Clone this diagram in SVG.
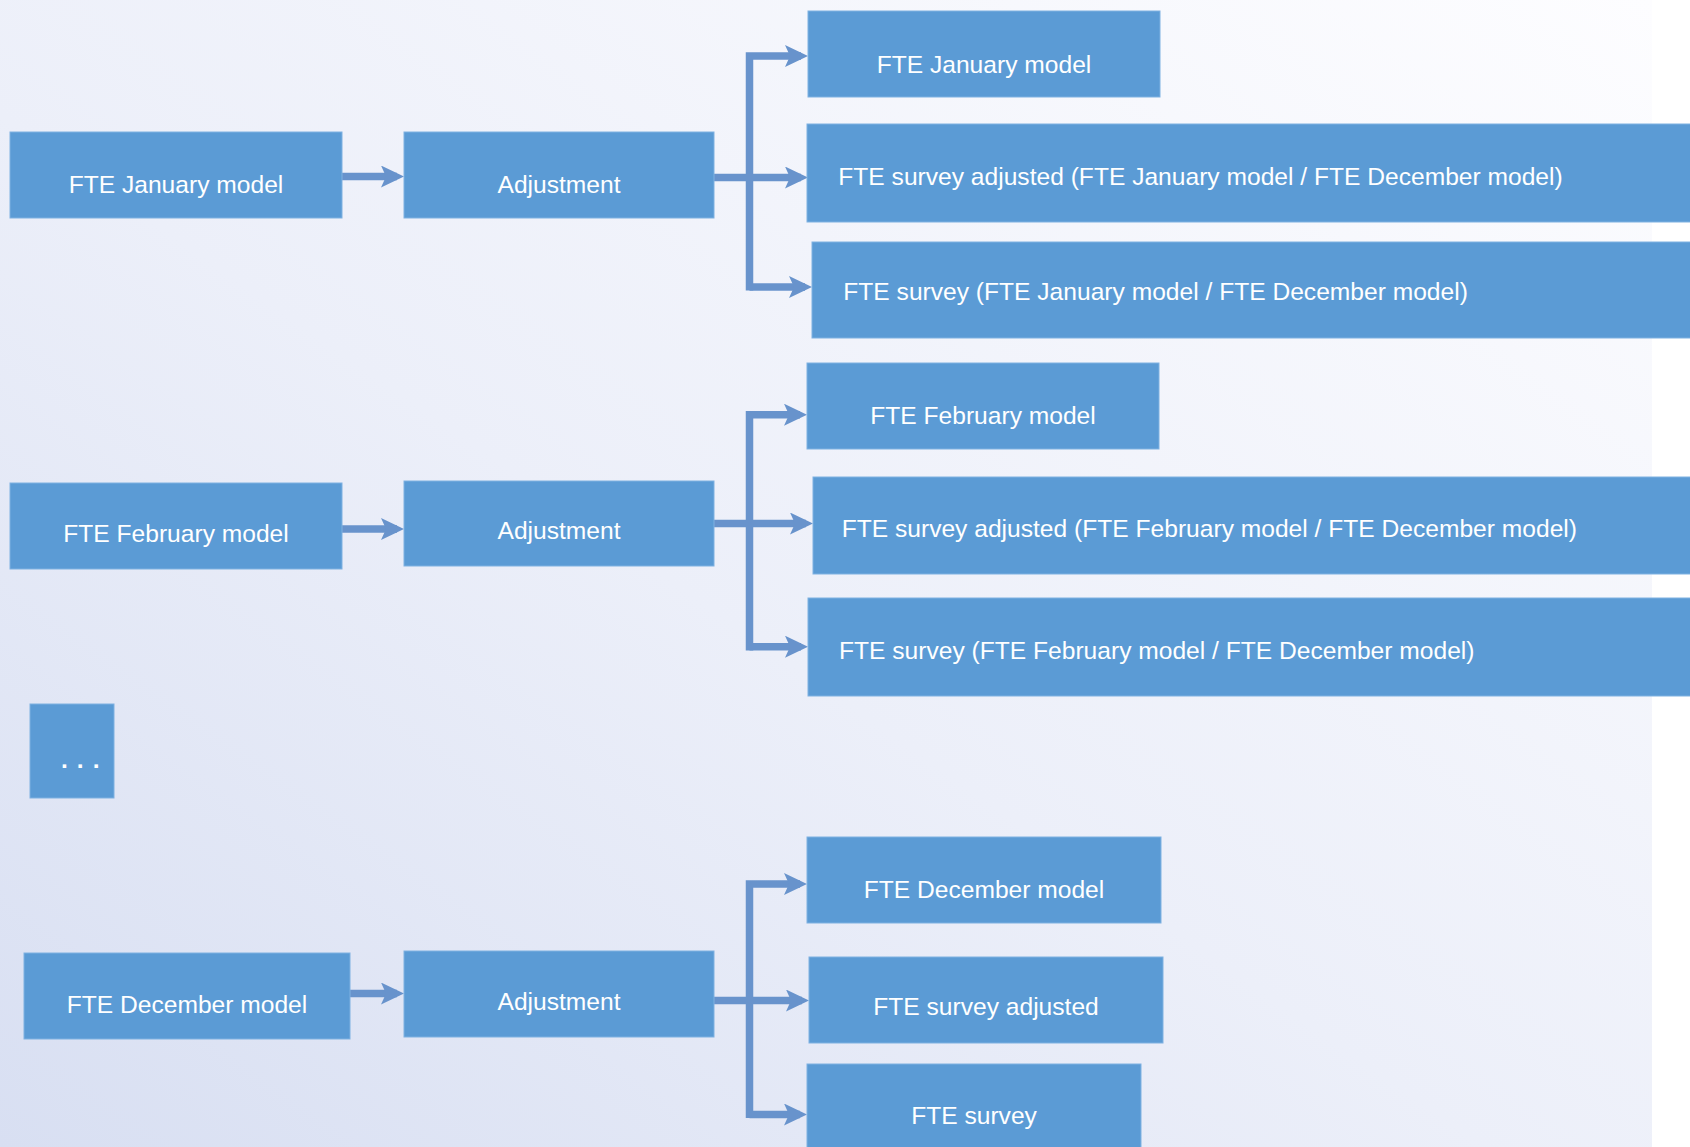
<svg xmlns="http://www.w3.org/2000/svg" width="1690" height="1147" viewBox="0 0 1690 1147">
<style>
.box{fill:#5b9bd5;stroke:#7fb1e1;stroke-width:1}
.t{font-family:"Liberation Sans",Arial,sans-serif;font-size:24.6px;fill:#ffffff}
.c{text-anchor:middle}
.con{fill:none;stroke:#6893cc;stroke-width:7.5;stroke-linejoin:miter}
</style>
<defs>
<linearGradient id="bg" x1="0" y1="1" x2="1" y2="0">
<stop offset="0" stop-color="#d8dff2"/>
<stop offset="0.45" stop-color="#eceff9"/>
<stop offset="1" stop-color="#fdfdff"/>
</linearGradient>
<marker id="ah" markerUnits="userSpaceOnUse" markerWidth="24" markerHeight="23" refX="16" refY="11" orient="auto" viewBox="0 0 24 23">
<path d="M0,0 L23,11 L0,22 L5,11 Z" fill="#6893cc"/>
</marker>
</defs>
<rect x="0" y="0" width="1690" height="1147" fill="#ffffff"/>
<rect x="0" y="0" width="1652" height="1147" fill="url(#bg)"/>

<g id="connectors">
<path class="con" d="M342,176.5 H397" marker-end="url(#ah)"/>
<path class="con" d="M713,177.5 H801" marker-end="url(#ah)"/>
<path class="con" d="M749.5,290.5 V56 H801" marker-end="url(#ah)"/>
<path class="con" d="M749.5,287 H805" marker-end="url(#ah)"/>

<path class="con" d="M342,529 H397" marker-end="url(#ah)"/>
<path class="con" d="M713,523.5 H806" marker-end="url(#ah)"/>
<path class="con" d="M749.5,650.5 V414.7 H800" marker-end="url(#ah)"/>
<path class="con" d="M749.5,646.7 H801" marker-end="url(#ah)"/>

<path class="con" d="M350,993.5 H397" marker-end="url(#ah)"/>
<path class="con" d="M713,1000.5 H802" marker-end="url(#ah)"/>
<path class="con" d="M749.5,1118 V884 H800" marker-end="url(#ah)"/>
<path class="con" d="M749.5,1114.5 H800" marker-end="url(#ah)"/>
</g>

<g id="jan-model"><rect class="box" x="10" y="132" width="332" height="86"/><text class="t c" x="176" y="193">FTE January model</text></g>
<g id="jan-adjustment"><rect class="box" x="404" y="132" width="310" height="86"/><text class="t c" x="559" y="193">Adjustment</text></g>
<g id="jan-out-model"><rect class="box" x="808" y="11" width="352" height="86"/><text class="t c" x="984" y="72.7">FTE January model</text></g>
<g id="jan-out-survey-adjusted"><rect class="box" x="807" y="124" width="890" height="98"/><text class="t" x="838.3" y="185">FTE survey adjusted (FTE January model / FTE December model)</text></g>
<g id="jan-out-survey"><rect class="box" x="812" y="242" width="885" height="96"/><text class="t" x="843.3" y="300">FTE survey (FTE January model / FTE December model)</text></g>

<g id="feb-model"><rect class="box" x="10" y="483" width="332" height="86"/><text class="t c" x="176" y="541.7">FTE February model</text></g>
<g id="feb-adjustment"><rect class="box" x="404" y="481" width="310" height="85"/><text class="t c" x="559" y="539.3">Adjustment</text></g>
<g id="feb-out-model"><rect class="box" x="807" y="363" width="352" height="86"/><text class="t c" x="983" y="424">FTE February model</text></g>
<g id="feb-out-survey-adjusted"><rect class="box" x="813" y="477" width="884" height="97"/><text class="t" x="841.7" y="537.3">FTE survey adjusted (FTE February model / FTE December model)</text></g>
<g id="feb-out-survey"><rect class="box" x="808" y="598" width="889" height="98"/><text class="t" x="839" y="659.3">FTE survey (FTE February model / FTE December model)</text></g>

<g id="ellipsis"><rect class="box" x="30" y="704" width="84" height="94"/><text class="t" x="61" y="768" font-weight="bold" letter-spacing="9">...</text></g>

<g id="dec-model"><rect class="box" x="24" y="953" width="326" height="86"/><text class="t c" x="187" y="1013.3">FTE December model</text></g>
<g id="dec-adjustment"><rect class="box" x="404" y="951" width="310" height="86"/><text class="t c" x="559" y="1010">Adjustment</text></g>
<g id="dec-out-model"><rect class="box" x="807" y="837" width="354" height="86"/><text class="t c" x="984" y="898.3">FTE December model</text></g>
<g id="dec-out-survey-adjusted"><rect class="box" x="809" y="957" width="354" height="86"/><text class="t c" x="986" y="1015">FTE survey adjusted</text></g>
<g id="dec-out-survey"><rect class="box" x="807" y="1064" width="334" height="95"/><text class="t c" x="974" y="1124">FTE survey</text></g>
</svg>
